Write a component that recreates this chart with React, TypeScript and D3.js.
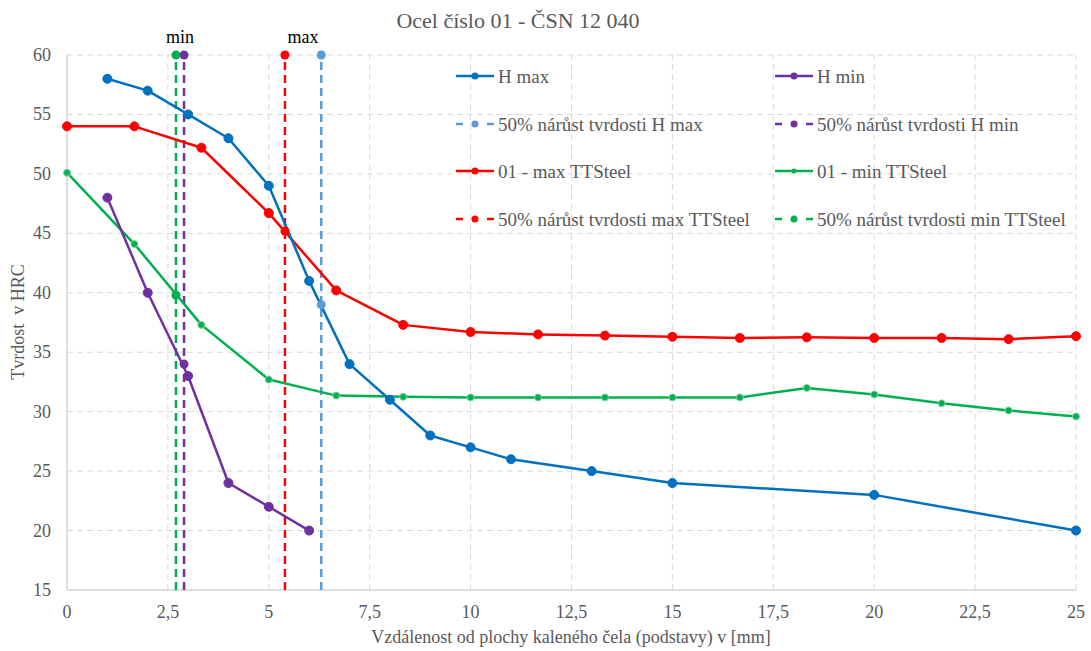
import * as d3 from "d3";
import React, { useEffect, useRef } from "react";

// H max / H min (measured)
const hMaxX = [1, 2, 3, 4, 5, 6, 7, 8, 9, 10, 11, 13, 15, 20, 25];
const hMaxY = [58, 57, 55, 53, 49, 41, 34, 31, 28, 27, 26, 25, 24, 23, 20];
const hMinX = [1, 2, 3, 4, 5, 6];
const hMinY = [48, 40, 33, 24, 22, 20];

// TTSteel calculated curves
const ttX = [0, 1.67, 3.33, 5, 6.67, 8.33, 10, 11.67, 13.33, 15, 16.67, 18.33, 20, 21.67, 23.33, 25];
const ttMaxY = [54, 54, 52.2, 46.7, 40.2, 37.3, 36.7, 36.5, 36.4, 36.3, 36.2, 36.25, 36.2, 36.2, 36.1, 36.35];
const ttMinY = [50.1, 44.1, 37.3, 32.7, 31.35, 31.25, 31.2, 31.2, 31.2, 31.2, 31.2, 32.0, 31.45, 30.7, 30.1, 29.6];

// 50% hardness drop positions (vertical markers)
const halfNames = ["50% nárůst tvrdosti H max", "50% nárůst tvrdosti H min", "50% nárůst tvrdosti max TTSteel", "50% nárůst tvrdosti min TTSteel"];
const halfX = [6.3, 2.9, 5.4, 2.7];
const halfY = [39, 34, 45.2, 39.8];
const halfColors = ["#5B9BD5", "#7030A0", "#FF0000", "#00B050"];

const xTicks = [0, 2.5, 5, 7.5, 10, 12.5, 15, 17.5, 20, 22.5, 25];
const yTicks = [15, 20, 25, 30, 35, 40, 45, 50, 55, 60];

const W = 1091;
const H = 651;
const TEXT = "#595959";
const FONT = "Liberation Serif, Times New Roman, DejaVu Serif, serif";

const App = () => {
  const ref = useRef(null);

  useEffect(() => {
    const svg = d3.select(ref.current);
    svg.selectAll("*").remove();

    const x = d3.scaleLinear().domain([0, 25]).range([67, 1076]);
    const y = d3.scaleLinear().domain([15, 60]).range([590, 55]);
    const fmt = (v) => String(v).replace(".", ",");

    const txt = (sel, size, color = TEXT) =>
      sel.style("font-family", FONT).style("font-size", `${size}px`).attr("fill", color);

    // grid
    const grid = svg.append("g");
    grid
      .selectAll("line.gx")
      .data(xTicks.slice(1))
      .enter()
      .append("line")
      .attr("x1", (d) => x(d))
      .attr("x2", (d) => x(d))
      .attr("y1", y(15))
      .attr("y2", y(60))
      .attr("stroke", "#d9d9d9")
      .attr("stroke-width", 1)
      .attr("stroke-dasharray", "6,4");
    grid
      .selectAll("line.gy")
      .data(yTicks.slice(1))
      .enter()
      .append("line")
      .attr("x1", x(0))
      .attr("x2", x(25))
      .attr("y1", (d) => y(d))
      .attr("y2", (d) => y(d))
      .attr("stroke", "#d9d9d9")
      .attr("stroke-width", 1)
      .attr("stroke-dasharray", "6,4");

    // axes lines
    svg.append("line").attr("x1", x(0)).attr("x2", x(0)).attr("y1", y(15)).attr("y2", y(60)).attr("stroke", "#bfbfbf");
    svg.append("line").attr("x1", x(0)).attr("x2", x(25)).attr("y1", y(15)).attr("y2", y(15)).attr("stroke", "#bfbfbf");

    // tick labels
    txt(
      svg
        .selectAll("text.xt")
        .data(xTicks)
        .enter()
        .append("text")
        .attr("x", (d) => x(d))
        .attr("y", 618)
        .attr("text-anchor", "middle")
        .text((d) => fmt(d)),
      18
    );
    txt(
      svg
        .selectAll("text.yt")
        .data(yTicks)
        .enter()
        .append("text")
        .attr("x", 51)
        .attr("y", (d) => y(d) + 6)
        .attr("text-anchor", "end")
        .text((d) => d),
      18
    );

    // titles
    txt(svg.append("text").attr("x", 518).attr("y", 28).attr("text-anchor", "middle").text("Ocel číslo 01 - ČSN 12 040"), 22);
    txt(
      svg.append("text").attr("x", 571).attr("y", 643).attr("text-anchor", "middle").text("Vzdálenost od plochy kaleného čela (podstavy) v [mm]"),
      18
    );
    txt(
      svg
        .append("text")
        .attr("transform", "translate(24,322) rotate(-90)")
        .attr("text-anchor", "middle")
        .style("white-space", "pre")
        .text("Tvrdost  v HRC"),
      18
    );

    // 50% vertical dashed lines
    halfX.forEach((hx, i) => {
      svg
        .append("line")
        .attr("x1", x(hx))
        .attr("x2", x(hx))
        .attr("y1", y(15))
        .attr("y2", y(60))
        .attr("stroke", halfColors[i])
        .attr("stroke-width", 2.5)
        .attr("stroke-dasharray", "8,5");
    });

    const line = d3
      .line()
      .x((d) => x(d[0]))
      .y((d) => y(d[1]));

    const series = [
      { xs: ttX, ys: ttMinY, color: "#00B050", r: 3.5, small: true },
      { xs: ttX, ys: ttMaxY, color: "#FF0000", r: 4.5 },
      { xs: hMinX, ys: hMinY, color: "#7030A0", r: 4.5 },
      { xs: hMaxX, ys: hMaxY, color: "#0070C0", r: 4.5 },
    ];

    series.forEach((s) => {
      const pts = s.xs.map((v, i) => [v, s.ys[i]]);
      svg
        .append("path")
        .attr("d", line(pts))
        .attr("fill", "none")
        .attr("stroke", s.color)
        .attr("stroke-width", 2.5)
        .attr("stroke-linejoin", "round");
      svg
        .selectAll(null)
        .data(pts)
        .enter()
        .append("circle")
        .attr("cx", (d) => x(d[0]))
        .attr("cy", (d) => y(d[1]))
        .attr("r", s.r)
        .attr("fill", s.color)
        .attr("stroke", s.small ? "#8fd19e" : s.color)
        .attr("stroke-width", 1);
    });

    // 50% markers (at crossing and on top)
    halfX.forEach((hx, i) => {
      [halfY[i], 60].forEach((v) => {
        svg
          .append("circle")
          .attr("cx", x(hx))
          .attr("cy", y(v))
          .attr("r", 4.5)
          .attr("fill", halfColors[i]);
      });
    });

    // min / max labels
    txt(svg.append("text").attr("x", (x(halfX[1]) + x(halfX[3])) / 2).attr("y", 43).attr("text-anchor", "middle").text("min"), 18, "#000");
    txt(svg.append("text").attr("x", (x(halfX[0]) + x(halfX[2])) / 2).attr("y", 43).attr("text-anchor", "middle").text("max"), 18, "#000");

    // legend
    const legend = [
      { name: "H max", color: "#0070C0", dashed: false, r: 3.5 },
      { name: "H min", color: "#7030A0", dashed: false, r: 3.5 },
      { name: halfNames[0], color: halfColors[0], dashed: true, r: 3.5 },
      { name: halfNames[1], color: halfColors[1], dashed: true, r: 3.5 },
      { name: "01 - max TTSteel", color: "#FF0000", dashed: false, r: 3.5 },
      { name: "01 - min TTSteel", color: "#00B050", dashed: false, r: 2.5 },
      { name: halfNames[2], color: halfColors[2], dashed: true, r: 3.5 },
      { name: halfNames[3], color: halfColors[3], dashed: true, r: 3.5 },
    ];
    const colX = [456, 775];
    const rowY = [76, 124, 171, 219];
    legend.forEach((l, i) => {
      const lx = colX[i % 2];
      const ly = rowY[Math.floor(i / 2)];
      const g = svg.append("g").attr("transform", `translate(${lx},${ly})`);
      if (l.dashed) {
        g.append("line").attr("x1", 0).attr("x2", 7).attr("y1", 0).attr("y2", 0).attr("stroke", l.color).attr("stroke-width", 2.5);
        g.append("line").attr("x1", 31).attr("x2", 38).attr("y1", 0).attr("y2", 0).attr("stroke", l.color).attr("stroke-width", 2.5);
      } else {
        g.append("line").attr("x1", 0).attr("x2", 38).attr("y1", 0).attr("y2", 0).attr("stroke", l.color).attr("stroke-width", 2.5);
      }
      g.append("circle").attr("cx", 19).attr("cy", 0).attr("r", l.r).attr("fill", l.color);
      txt(g.append("text").attr("x", 42).attr("y", 6.5).text(l.name), 19);
    });
  }, []);

  return <svg ref={ref} width={W} height={H} style={{ position: "absolute", left: 0, top: 0, background: "#fff" }} />;
};

export default App;
